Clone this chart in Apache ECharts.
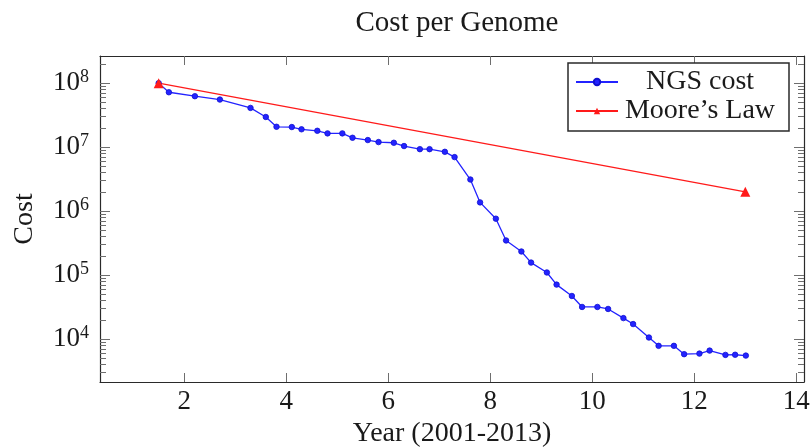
<!DOCTYPE html>
<html><head><meta charset="utf-8">
<script src="https://cdn.jsdelivr.net/npm/echarts@6/dist/echarts.min.js"></script>
<style>html,body{margin:0;padding:0;background:#fff}#c{width:811px;height:448px}</style>
</head><body><div id="c"></div>
<script>
const years = [1.50,1.70,2.21,2.70,3.30,3.60,3.81,4.11,4.30,4.61,4.81,5.10,5.30,5.60,5.81,6.11,6.31,6.62,6.81,7.11,7.30,7.61,7.80,8.11,8.31,8.61,8.80,9.11,9.30,9.60,9.80,10.10,10.31,10.61,10.80,11.11,11.30,11.60,11.80,12.10,12.30,12.61,12.80,13.01];
const ngsCost = [1.0e8,7.2e7,6.25e7,5.54e7,4.10e7,2.96e7,2.08e7,2.06e7,1.90e7,1.80e7,1.64e7,1.64e7,1.40e7,1.29e7,1.20e7,1.17e7,1.04e7,9.3e6,9.3e6,8.45e6,6.98e6,3.12e6,1.37e6,7.62e5,3.48e5,2.34e5,1.57e5,1.10e5,7.11e4,4.72e4,3.18e4,3.18e4,2.96e4,2.13e4,1.72e4,1.06e4,7.85e3,7.85e3,5.82e3,5.94e3,6.62e3,5.67e3,5.7e3,5.53e3];
const mooreYears = [1.5, 13];
const mooreCost = [1.0e8, 2.0e6];
const xTicks = [2,4,6,8,10,12,14];
const yTicks = [1e4,1e5,1e6,1e7,1e8];
const yMinorTicks = [2e3,3e3,4e3,5e3,6e3,7e3,8e3,9e3,2e4,3e4,4e4,5e4,6e4,7e4,8e4,9e4,2e5,3e5,4e5,5e5,6e5,7e5,8e5,9e5,2e6,3e6,4e6,5e6,6e6,7e6,8e6,9e6,2e7,3e7,4e7,5e7,6e7,7e7,8e7,9e7,2e8];
const xMin = 0.35, xMax = 14.15;
const yMin = Math.pow(10, 3.33), yMax = Math.pow(10, 8.424);

const FONT = '"Liberation Serif", "Times New Roman", serif';
const TXT = '#1a1a1a';
const FRAME = '#2a2a2a';
const TICK = '#6e6e6e';
const G = { left: 100, right: 7, top: 56, bottom: 66 };
const PW = 811 - G.left - G.right, PH = 448 - G.top - G.bottom;

// frame / label axis (no ticks)
function yFrame(pos, withLabel) {
  return {
    type: 'log', logBase: 10, min: yMin, max: yMax, position: pos,
    name: withLabel ? 'Cost' : '',
    nameLocation: 'middle', nameRotate: 90, nameGap: 61,
    nameTextStyle: { fontFamily: FONT, fontSize: 28, color: TXT },
    axisLine: { show: true, lineStyle: { color: FRAME, width: 1.2 } },
    axisTick: { show: false },
    axisLabel: { show: withLabel, customValues: yTicks, margin: 11,
      formatter: v => '{b|10}{s|' + Math.round(Math.log10(v)) + '}',
      rich: { b: { fontFamily: FONT, fontSize: 27, color: TXT, lineHeight: 30 },
              s: { fontFamily: FONT, fontSize: 18, color: TXT, lineHeight: 18, verticalAlign: 'top' } } },
    splitLine: { show: false }, minorTick: { show: false }
  };
}
// tick-only axis placed on the opposite edge so outward ticks point into the plot
function yTickAxis(pos, values, len) {
  return {
    type: 'log', logBase: 10, min: yMin, max: yMax, position: pos, offset: -PW,
    axisLine: { show: false },
    axisTick: { show: true, length: len, customValues: values, lineStyle: { color: TICK, width: 1 } },
    axisLabel: { show: false }, splitLine: { show: false }, minorTick: { show: false }
  };
}
function xFrame(pos, withLabel) {
  return {
    type: 'value', min: xMin, max: xMax, position: pos,
    name: withLabel ? 'Year (2001-2013)' : '',
    nameLocation: 'middle', nameGap: 38,
    nameTextStyle: { fontFamily: FONT, fontSize: 28, color: TXT },
    axisLine: { show: true, onZero: false, lineStyle: { color: FRAME, width: 1.2 } },
    axisTick: { show: false },
    axisLabel: { show: withLabel, customValues: xTicks, margin: 6,
      fontFamily: FONT, fontSize: 27, color: TXT },
    splitLine: { show: false }
  };
}
function xTickAxis(pos) {
  return {
    type: 'value', min: xMin, max: xMax, position: pos, offset: -PH,
    axisLine: { show: false, onZero: false },
    axisTick: { show: true, length: 9, customValues: xTicks, lineStyle: { color: TICK, width: 1 } },
    axisLabel: { show: false }, splitLine: { show: false }
  };
}

const chart = echarts.init(document.getElementById('c'), null, { renderer: 'canvas' });
chart.setOption({
  animation: false,
  backgroundColor: '#fff',
  title: { text: 'Cost per Genome', left: 452, top: 4, textAlign: 'center',
    textStyle: { fontFamily: FONT, fontSize: 29, fontWeight: 'normal', color: TXT } },
  grid: { left: G.left, right: G.right, top: G.top, bottom: G.bottom, containLabel: false, outerBoundsMode: 'none' },
  xAxis: [xFrame('bottom', true), xFrame('top', false), xTickAxis('top'), xTickAxis('bottom')],
  yAxis: [yFrame('left', true), yFrame('right', false),
          yTickAxis('right', yTicks, 10), yTickAxis('right', yMinorTicks, 6),
          yTickAxis('left', yTicks, 10), yTickAxis('left', yMinorTicks, 6)],
  legend: {
    left: 568, top: 63, orient: 'vertical',
    backgroundColor: '#fff', borderColor: FRAME, borderWidth: 1.5, borderRadius: 0,
    padding: [5, 12, 6, 7], itemGap: 1, itemWidth: 42, itemHeight: 8, itemTextGap: 6,
    formatter: n => '{c|' + n + '}',
    textStyle: { fontFamily: FONT, fontSize: 28, color: TXT, lineHeight: 28,
      rich: { c: { fontFamily: FONT, fontSize: 28, color: TXT, width: 154, align: 'center', lineHeight: 28 } } },
    data: ['NGS cost', 'Moore\u2019s Law']
  },
  series: [
    { name: 'NGS cost', type: 'line', xAxisIndex: 0, yAxisIndex: 0,
      data: years.map((x, i) => [x, ngsCost[i]]),
      symbol: 'circle', symbolSize: 5.5, showSymbol: true,
      lineStyle: { color: '#2323ff', width: 1.3 },
      itemStyle: { color: '#2323ff', borderColor: '#1010d0', borderWidth: 0.8 } },
    { name: 'Moore\u2019s Law', type: 'line', xAxisIndex: 0, yAxisIndex: 0,
      data: mooreYears.map((x, i) => [x, mooreCost[i]]),
      symbol: 'triangle', symbolSize: 10, showSymbol: true,
      lineStyle: { color: '#ff1a1a', width: 1.3 },
      itemStyle: { color: '#ff1a1a' } }
  ]
});
</script></body></html>
